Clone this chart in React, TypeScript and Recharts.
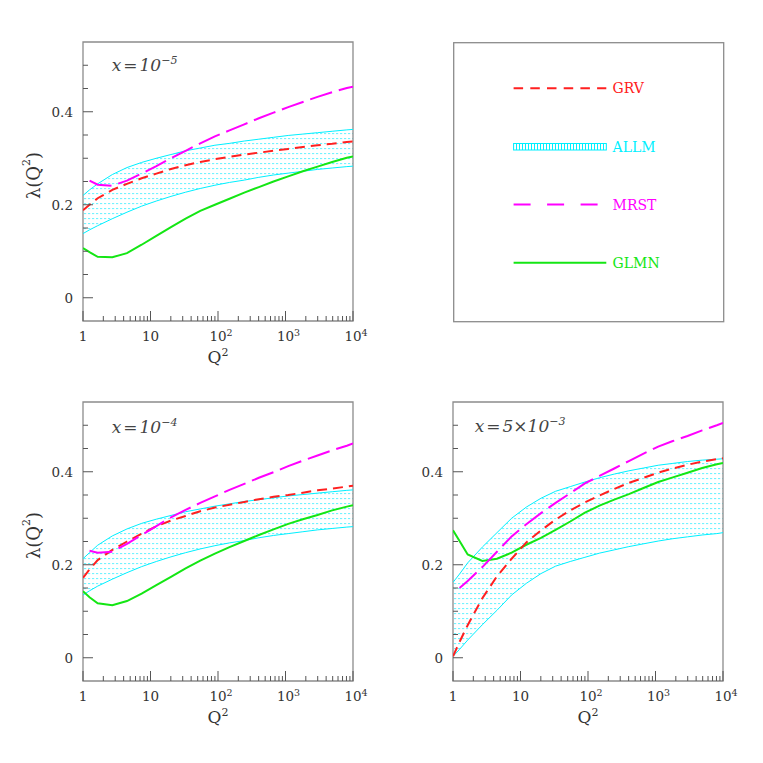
import React from "react";
import {
  ComposedChart,
  Line,
  Area,
  XAxis,
  YAxis,
  ReferenceArea,
} from "recharts";

// Q^2 grid shared by every curve
const q2 = [
  1, 1.25, 1.65, 2.72, 4.48, 7.39, 12.2, 20.1, 33.1, 54.6, 90, 148, 245, 403,
  665, 1097, 1808, 2981, 4915, 8103, 10000,
];

// x = 1e-5
const grv5 = [0.188, 0.2, 0.214, 0.232, 0.245, 0.257, 0.267, 0.277, 0.285, 0.292, 0.298, 0.303, 0.308, 0.312, 0.316, 0.32, 0.324, 0.328, 0.331, 0.335, 0.336];
const allmHi5 = [0.22, 0.232, 0.245, 0.265, 0.28, 0.291, 0.3, 0.308, 0.316, 0.322, 0.328, 0.332, 0.337, 0.341, 0.345, 0.349, 0.352, 0.355, 0.358, 0.361, 0.362];
const allmLo5 = [0.138, 0.146, 0.155, 0.17, 0.184, 0.197, 0.208, 0.218, 0.227, 0.235, 0.242, 0.248, 0.253, 0.259, 0.264, 0.268, 0.272, 0.276, 0.279, 0.282, 0.283];
const mrst5 = [null, 0.252, 0.243, 0.241, 0.252, 0.267, 0.283, 0.3, 0.316, 0.332, 0.347, 0.36, 0.373, 0.386, 0.398, 0.41, 0.421, 0.432, 0.442, 0.451, 0.454];
const glmn5 = [0.107, 0.098, 0.088, 0.087, 0.096, 0.114, 0.133, 0.152, 0.17, 0.187, 0.2, 0.213, 0.226, 0.238, 0.25, 0.261, 0.272, 0.282, 0.292, 0.301, 0.304];

// x = 1e-4
const grv4 = [0.172, 0.19, 0.21, 0.232, 0.25, 0.267, 0.283, 0.295, 0.305, 0.315, 0.323, 0.329, 0.335, 0.341, 0.346, 0.35, 0.355, 0.36, 0.364, 0.368, 0.37];
const allmHi4 = [0.213, 0.226, 0.242, 0.262, 0.277, 0.289, 0.298, 0.306, 0.314, 0.32, 0.326, 0.331, 0.336, 0.34, 0.344, 0.348, 0.351, 0.354, 0.357, 0.36, 0.361];
const allmLo4 = [0.135, 0.144, 0.154, 0.169, 0.183, 0.196, 0.207, 0.217, 0.226, 0.234, 0.241, 0.247, 0.252, 0.258, 0.263, 0.267, 0.271, 0.275, 0.278, 0.281, 0.282];
const mrst4 = [null, 0.23, 0.226, 0.228, 0.245, 0.264, 0.283, 0.302, 0.318, 0.333, 0.347, 0.361, 0.374, 0.387, 0.399, 0.412, 0.424, 0.435, 0.446, 0.456, 0.461];
const glmn4 = [0.143, 0.13, 0.117, 0.113, 0.122, 0.138, 0.156, 0.174, 0.192, 0.209, 0.224, 0.238, 0.251, 0.264, 0.276, 0.288, 0.298, 0.307, 0.317, 0.325, 0.328];

// x = 5e-3
const grv3 = [0.003, 0.034, 0.07, 0.128, 0.175, 0.213, 0.248, 0.274, 0.297, 0.317, 0.334, 0.349, 0.363, 0.376, 0.387, 0.398, 0.407, 0.415, 0.422, 0.427, 0.429];
const allmHi3 = [0.162, 0.18, 0.204, 0.238, 0.269, 0.3, 0.324, 0.343, 0.358, 0.368, 0.378, 0.387, 0.395, 0.402, 0.408, 0.414, 0.418, 0.422, 0.425, 0.427, 0.428];
const allmLo3 = [0.003, 0.018, 0.038, 0.071, 0.102, 0.135, 0.16, 0.181, 0.197, 0.207, 0.216, 0.225, 0.232, 0.239, 0.245, 0.251, 0.256, 0.26, 0.264, 0.267, 0.269];
const mrst3 = [null, 0.15, 0.165, 0.195, 0.228, 0.261, 0.287, 0.311, 0.333, 0.354, 0.375, 0.391, 0.407, 0.423, 0.439, 0.454, 0.466, 0.477, 0.489, 0.5, 0.505];
const glmn3 = [0.274, 0.251, 0.222, 0.208, 0.213, 0.226, 0.243, 0.258, 0.275, 0.293, 0.312, 0.327, 0.34, 0.352, 0.365, 0.378, 0.388, 0.398, 0.408, 0.416, 0.419];

// axis ticks
const xTicks = [
  1, 2, 3, 4, 5, 6, 7, 8, 9, 10, 20, 30, 40, 50, 60, 70, 80, 90, 100, 200, 300,
  400, 500, 600, 700, 800, 900, 1000, 2000, 3000, 4000, 5000, 6000, 7000, 8000,
  9000, 10000,
];
const xMajor = [1, 10, 100, 1000, 10000];
const xLabelBase = ["1", "10", "10", "10", "10"];
const xLabelExp = ["", "", "2", "3", "4"];
const yTicks = [0, 0.05, 0.1, 0.15, 0.2, 0.25, 0.3, 0.35, 0.4, 0.45, 0.5];
const yMajor = [0, 0.2, 0.4];
const yLabels = ["0", "0.2", "0.4"];

const legendNames = ["GRV", "ALLM", "MRST", "GLMN"];

const RED = "#ff2020";
const CYAN = "#00f0ff";
const MAGENTA = "#ff00ff";
const GREEN = "#14e614";
const FRAME = "#8c8c8c";
const INK = "#333";
const FONT = "DejaVu Serif";

// chart geometry
const PLOT_LEFT = 75;
const PLOT_TOP = 10;
const PLOT_W = 270;
const PLOT_H = 279;
const X_AXIS_H = 50;
const RIGHT_PAD = 30;
const CHART_W = PLOT_LEFT + PLOT_W + RIGHT_PAD;
const CHART_H = PLOT_TOP + PLOT_H + X_AXIS_H;

const makeRows = (grv, lo, hi, mrst, glmn) =>
  q2.map((q, i) => ({
    q2: q,
    grv: grv[i],
    allmLo: lo[i],
    allmHi: hi[i],
    band: [lo[i], hi[i]],
    mrst: mrst[i],
    glmn: glmn[i],
  }));

const XTick = (props: any) => {
  const x = props.x;
  const i = xMajor.indexOf(props.payload.value);
  const y0 = PLOT_TOP + PLOT_H;
  return (
    <g>
      <line x1={x} x2={x} y1={y0} y2={y0 - (i >= 0 ? 10 : 5)} stroke="#555" strokeWidth={1} />
      {i >= 0 && (
        <text
          x={x + (xLabelExp[i] ? 3 : 0)}
          y={y0 + 20}
          textAnchor="middle"
          fontFamily={FONT}
          fontSize={13.5}
          fill={INK}
        >
          {xLabelBase[i]}
          {xLabelExp[i] && (
            <tspan dy={-5} fontSize={9.5}>
              {xLabelExp[i]}
            </tspan>
          )}
        </text>
      )}
    </g>
  );
};

const YTick = (props: any) => {
  const y = props.y;
  const i = yMajor.findIndex((m) => Math.abs(m - props.payload.value) < 1e-9);
  return (
    <g>
      <line x1={PLOT_LEFT} x2={PLOT_LEFT + (i >= 0 ? 10 : 5)} y1={y} y2={y} stroke="#555" strokeWidth={1} />
      {i >= 0 && (
        <text
          x={PLOT_LEFT - 10}
          y={y + 5}
          textAnchor="end"
          fontFamily={FONT}
          fontSize={13.5}
          fill={INK}
        >
          {yLabels[i]}
        </text>
      )}
    </g>
  );
};

const Panel = ({ id, left, top, rows, xExp, xPre, noteX, noteY, yTitle }) => (
  <div style={{ position: "absolute", left, top }}>
    <ComposedChart
      width={CHART_W}
      height={CHART_H}
      data={rows}
      margin={{ top: PLOT_TOP, right: RIGHT_PAD, bottom: 0, left: 0 }}
    >
      <defs>
        <pattern id={`dots-${id}`} width={4} height={5} patternUnits="userSpaceOnUse">
          <rect x={0} y={1} width={2.2} height={1.1} fill="#00e8ff" fillOpacity={0.55} />
        </pattern>
      </defs>
      <XAxis
        dataKey="q2"
        type="number"
        scale="log"
        domain={[1, 10000]}
        allowDataOverflow
        ticks={xTicks}
        interval={0}
        tick={<XTick />}
        tickLine={false}
        axisLine={false}
        height={X_AXIS_H}
      />
      <YAxis
        type="number"
        domain={[-0.05, 0.55]}
        allowDataOverflow
        ticks={yTicks}
        interval={0}
        tick={<YTick />}
        tickLine={false}
        axisLine={false}
        width={PLOT_LEFT}
      />
      <Area
        dataKey="band"
        type="linear"
        stroke="none"
        fill={`url(#dots-${id})`}
        fillOpacity={1}
        isAnimationActive={false}
        activeDot={false}
      />
      <Line dataKey="allmHi" type="linear" stroke={CYAN} strokeWidth={1} dot={false} isAnimationActive={false} />
      <Line dataKey="allmLo" type="linear" stroke={CYAN} strokeWidth={1} dot={false} isAnimationActive={false} />
      <Line dataKey="glmn" type="linear" stroke={GREEN} strokeWidth={2} dot={false} isAnimationActive={false} />
      <Line dataKey="grv" type="linear" stroke={RED} strokeWidth={2} strokeDasharray="10 6" dot={false} isAnimationActive={false} />
      <Line dataKey="mrst" type="linear" stroke={MAGENTA} strokeWidth={2} strokeDasharray="23 7" dot={false} isAnimationActive={false} />
      <ReferenceArea x1={1} x2={10000} y1={-0.05} y2={0.55} fill="none" stroke={FRAME} strokeWidth={1.3} />
      <text
        x={PLOT_LEFT + noteX}
        y={PLOT_TOP + noteY}
        fontFamily={FONT}
        fontStyle="italic"
        fontSize={17}
        fill="#444"
      >
        x<tspan dx={2}>=</tspan>
        <tspan dx={2}>{xPre}10</tspan>
        <tspan dy={-7} fontSize={11}>
          {"\u2212" + xExp}
        </tspan>
      </text>
      <text
        x={PLOT_LEFT + PLOT_W / 2}
        y={PLOT_TOP + PLOT_H + 42}
        textAnchor="middle"
        fontFamily={FONT}
        fontSize={17}
        fill={INK}
      >
        Q<tspan dy={-7} fontSize={11}>2</tspan>
      </text>
      {yTitle && (
        <text
          x={25}
          y={PLOT_TOP + PLOT_H / 2 - 6}
          transform={`rotate(-90, 25, ${PLOT_TOP + PLOT_H / 2 - 6})`}
          textAnchor="middle"
          dominantBaseline="central"
          fontFamily={FONT}
          fontSize={18}
          fill={INK}
        >
          λ(Q<tspan dy={-7} fontSize={11}>2</tspan>
          <tspan dy={7}>)</tspan>
        </text>
      )}
    </ComposedChart>
  </div>
);

const LegendBox = () => {
  const rowY = [46.2, 104.5, 162.5, 220.8];
  const colors = [RED, CYAN, MAGENTA, GREEN];
  return (
    <svg
      width={272}
      height={281}
      style={{ position: "absolute", left: 444.7, top: 33.5 }}
    >
      <defs>
        <pattern id="hatch" width={3} height={8} patternUnits="userSpaceOnUse">
          <rect x={0} y={0} width={1} height={8} fill={CYAN} />
        </pattern>
      </defs>
      <rect x={0.7} y={0.7} width={270} height={279} fill="none" stroke={FRAME} strokeWidth={1.3} />
      <line x1={60.6} x2={153.3} y1={rowY[0]} y2={rowY[0]} stroke={RED} strokeWidth={2} strokeDasharray="9.5 7.2" />
      <rect x={60.6} y={rowY[1] - 3} width={92.7} height={6.5} fill="url(#hatch)" stroke={CYAN} strokeWidth={1} />
      <line x1={60.6} x2={153.3} y1={rowY[2]} y2={rowY[2]} stroke={MAGENTA} strokeWidth={2} strokeDasharray="17 16.5" />
      <line x1={60.6} x2={153.3} y1={rowY[3]} y2={rowY[3]} stroke={GREEN} strokeWidth={2} />
      {legendNames.map((name, i) => (
        <text
          key={name}
          x={159.6}
          y={rowY[i] + 5}
          fontFamily={FONT}
          fontSize={14}
          fill={colors[i]}
        >
          {name}
        </text>
      ))}
    </svg>
  );
};

export default function App() {
  return (
    <div style={{ position: "relative", width: 747, height: 747 }}>
      <Panel
        id="a"
        left={0}
        top={23.7}
        rows={makeRows(grv5, allmLo5, allmHi5, mrst5, glmn5)}
        xPre=""
        xExp="5"
        noteX={28.7}
        noteY={28.5}
        yTitle
      />
      <LegendBox />
      <Panel
        id="b"
        left={0}
        top={383.7}
        rows={makeRows(grv4, allmLo4, allmHi4, mrst4, glmn4)}
        xPre=""
        xExp="4"
        noteX={28.7}
        noteY={30.5}
        yTitle
      />
      <Panel
        id="c"
        left={370.3}
        top={384.3}
        rows={makeRows(grv3, allmLo3, allmHi3, mrst3, glmn3)}
        xPre={"5\u00d7"}
        xExp="3"
        noteX={21.7}
        noteY={30}
        yTitle={false}
      />
    </div>
  );
}
